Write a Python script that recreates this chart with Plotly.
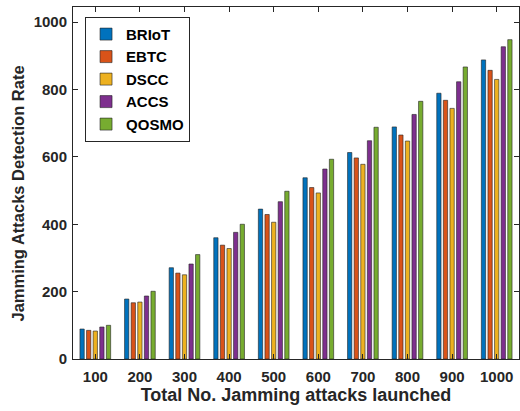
import plotly.graph_objects as go

categories = ["100", "200", "300", "400", "500", "600", "700", "800", "900", "1000"]
briot = [89, 178, 271, 360, 445, 538, 613, 689, 789, 888]
ebtc = [85, 167, 255, 338, 429, 509, 597, 665, 768, 857]
dscc = [83, 169, 250, 328, 406, 493, 578, 647, 744, 830]
accs = [95, 187, 282, 376, 467, 564, 648, 726, 823, 927]
qosmo = [100, 201, 310, 400, 498, 593, 688, 765, 867, 948]

series = [("BRIoT", briot, "#0072BD"), ("EBTC", ebtc, "#D95319"),
          ("DSCC", dscc, "#EDB120"), ("ACCS", accs, "#7E2F8E"),
          ("QOSMO", qosmo, "#77AC30")]

fig = go.Figure()
for name, vals, col in series:
    fig.add_trace(go.Bar(x=categories, y=vals, name=name,
                         marker=dict(color=col, line=dict(color="#222222", width=0.6))))

fam = "Liberation Sans, Arial"
fig.update_layout(
    width=520, height=411,
    margin=dict(l=73, r=1, t=7, b=52),
    plot_bgcolor="white", paper_bgcolor="white",
    barmode="group", bargap=0.26, bargroupgap=0.35,
    font=dict(family=fam, size=14, color="#262626"),
    legend=dict(x=0.027, y=0.972, xanchor="left", yanchor="top",
                bgcolor="white", bordercolor="#262626", borderwidth=1,
                font=dict(family=fam, size=15, color="black", weight="bold"),
                tracegroupgap=0, itemwidth=30),
    showlegend=True,
    annotations=[dict(text="<b>Jamming Attacks Detection Rate</b>", textangle=-90,
                      xref="paper", yref="paper", x=(17.5 - 73) / 446, y=(359 - 194) / 352,
                      xanchor="center", yanchor="middle", showarrow=False,
                      font=dict(family=fam, size=16.5, color="#262626"))],
)
fig.update_xaxes(type="category", showline=True, linecolor="#262626", linewidth=1, mirror="ticks",
                 ticks="inside", ticklen=5, tickcolor="#262626", showgrid=False,
                 ticklabelstandoff=4,
                 tickfont=dict(family=fam, size=15, color="#262626", weight="bold"),
                 title=dict(text="<b>Total No. Jamming attacks launched</b>",
                            font=dict(family=fam, size=18, color="#262626"), standoff=4))
fig.update_yaxes(range=[0, 1045], tickvals=[0, 200, 400, 600, 800, 1000], showline=True, linecolor="#262626",
                 linewidth=1, mirror="ticks", ticks="inside", ticklen=5, tickcolor="#262626",
                 showgrid=False, zeroline=False, ticklabelstandoff=2,
                 tickfont=dict(family=fam, size=15, color="#262626", weight="bold"))

fig.write_html("out.html")
